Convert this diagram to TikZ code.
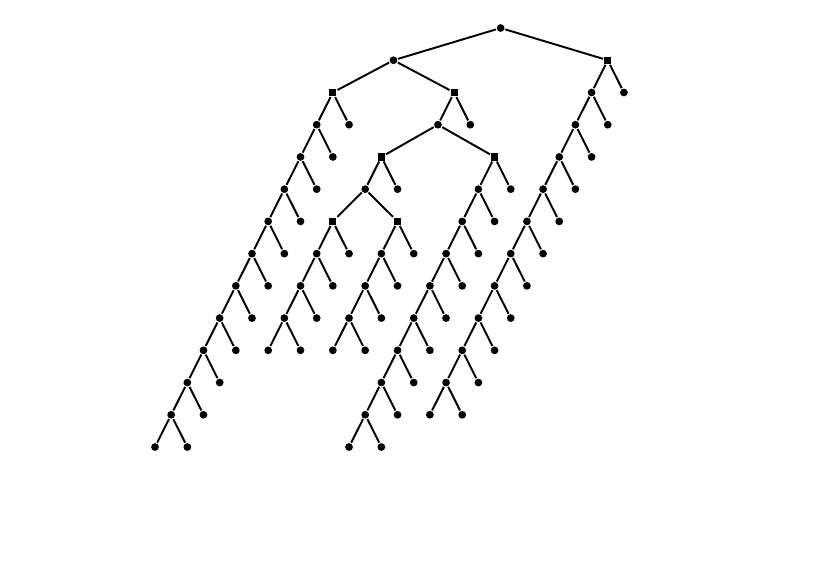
\documentclass[tikz,border=0pt]{standalone}
\begin{document}
\begin{tikzpicture}[x=0.3234cm,y=0.6446cm,line width=1.1pt]
\tikzstyle{vertex}=[circle, fill=black, inner sep=0pt, minimum size=1.55mm]
\tikzstyle{split}=[rectangle, fill=black, inner sep=0pt, minimum size=1.45mm]
\useasboundingbox (-9.585,0.869) rectangle (41.93,-16.506);

% top of the tree
\node[vertex] (r)  at (21.375, 0) {};
\node[vertex] (a)  at (14.75,-1) {};
\node[split]  (b)  at (28,-1) {};
\node[split]  (c)  at (11,-2) {};
\node[split]  (d)  at (18.5,-2) {};
\node[vertex] (d1) at (17.5,-3) {};
\node[vertex] (dr) at (19.5,-3) {};
\node[split]  (e)  at (14,-4) {};
\node[split]  (f)  at (21,-4) {};
\node[vertex] (g)  at (13,-5) {};
\node[vertex] (er) at (15,-5) {};
\node[split]  (h)  at (11,-6) {};
\node[split]  (i)  at (15,-6) {};

% chain below c
\node[vertex] (c1)  at (10,-3) {};
\node[vertex] (c2)  at ( 9,-4) {};
\node[vertex] (c3)  at ( 8,-5) {};
\node[vertex] (c4)  at ( 7,-6) {};
\node[vertex] (c5)  at ( 6,-7) {};
\node[vertex] (c6)  at ( 5,-8) {};
\node[vertex] (c7)  at ( 4,-9) {};
\node[vertex] (c8)  at ( 3,-10) {};
\node[vertex] (c9)  at ( 2,-11) {};
\node[vertex] (c10) at ( 1,-12) {};
\node[vertex] (c11) at ( 0,-13) {};
\node[vertex] (cr)   at (12,-3) {};
\node[vertex] (c1r)  at (11,-4) {};
\node[vertex] (c2r)  at (10,-5) {};
\node[vertex] (c3r)  at ( 9,-6) {};
\node[vertex] (c4r)  at ( 8,-7) {};
\node[vertex] (c5r)  at ( 7,-8) {};
\node[vertex] (c6r)  at ( 6,-9) {};
\node[vertex] (c7r)  at ( 5,-10) {};
\node[vertex] (c8r)  at ( 4,-11) {};
\node[vertex] (c9r)  at ( 3,-12) {};
\node[vertex] (c10r) at ( 2,-13) {};

% chain below h
\node[vertex] (h1)  at (10,-7) {};
\node[vertex] (h2)  at ( 9,-8) {};
\node[vertex] (h3)  at ( 8,-9) {};
\node[vertex] (h4)  at ( 7,-10) {};
\node[vertex] (hr)  at (12,-7) {};
\node[vertex] (h1r) at (11,-8) {};
\node[vertex] (h2r) at (10,-9) {};
\node[vertex] (h3r) at ( 9,-10) {};

% chain below i
\node[vertex] (i1)  at (14,-7) {};
\node[vertex] (i2)  at (13,-8) {};
\node[vertex] (i3)  at (12,-9) {};
\node[vertex] (i4)  at (11,-10) {};
\node[vertex] (ir)  at (16,-7) {};
\node[vertex] (i1r) at (15,-8) {};
\node[vertex] (i2r) at (14,-9) {};
\node[vertex] (i3r) at (13,-10) {};

% chain below f
\node[vertex] (f1)  at (20,-5) {};
\node[vertex] (f2)  at (19,-6) {};
\node[vertex] (f3)  at (18,-7) {};
\node[vertex] (f4)  at (17,-8) {};
\node[vertex] (f5)  at (16,-9) {};
\node[vertex] (f6)  at (15,-10) {};
\node[vertex] (f7)  at (14,-11) {};
\node[vertex] (f8)  at (13,-12) {};
\node[vertex] (f9)  at (12,-13) {};
\node[vertex] (fr)  at (22,-5) {};
\node[vertex] (f1r) at (21,-6) {};
\node[vertex] (f2r) at (20,-7) {};
\node[vertex] (f3r) at (19,-8) {};
\node[vertex] (f4r) at (18,-9) {};
\node[vertex] (f5r) at (17,-10) {};
\node[vertex] (f6r) at (16,-11) {};
\node[vertex] (f7r) at (15,-12) {};
\node[vertex] (f8r) at (14,-13) {};

% chain below b
\node[vertex] (b1)  at (27,-2) {};
\node[vertex] (b2)  at (26,-3) {};
\node[vertex] (b3)  at (25,-4) {};
\node[vertex] (b4)  at (24,-5) {};
\node[vertex] (b5)  at (23,-6) {};
\node[vertex] (b6)  at (22,-7) {};
\node[vertex] (b7)  at (21,-8) {};
\node[vertex] (b8)  at (20,-9) {};
\node[vertex] (b9)  at (19,-10) {};
\node[vertex] (b10) at (18,-11) {};
\node[vertex] (b11) at (17,-12) {};
\node[vertex] (br)   at (29,-2) {};
\node[vertex] (b1r)  at (28,-3) {};
\node[vertex] (b2r)  at (27,-4) {};
\node[vertex] (b3r)  at (26,-5) {};
\node[vertex] (b4r)  at (25,-6) {};
\node[vertex] (b5r)  at (24,-7) {};
\node[vertex] (b6r)  at (23,-8) {};
\node[vertex] (b7r)  at (22,-9) {};
\node[vertex] (b8r)  at (21,-10) {};
\node[vertex] (b9r)  at (20,-11) {};
\node[vertex] (b10r) at (19,-12) {};

% edges
\draw (r) -- (a);
\draw (r) -- (b);
\draw (a) -- (c);
\draw (a) -- (d);
\draw (d) -- (d1);
\draw (d) -- (dr);
\draw (d1) -- (e);
\draw (d1) -- (f);
\draw (e) -- (g);
\draw (e) -- (er);
\draw (g) -- (h);
\draw (g) -- (i);

\draw (c) -- (c1) -- (c2) -- (c3) -- (c4) -- (c5) -- (c6) -- (c7) -- (c8) -- (c9) -- (c10) -- (c11);
\draw (c) -- (cr) (c1) -- (c1r) (c2) -- (c2r) (c3) -- (c3r) (c4) -- (c4r) (c5) -- (c5r)
      (c6) -- (c6r) (c7) -- (c7r) (c8) -- (c8r) (c9) -- (c9r) (c10) -- (c10r);

\draw (h) -- (h1) -- (h2) -- (h3) -- (h4);
\draw (h) -- (hr) (h1) -- (h1r) (h2) -- (h2r) (h3) -- (h3r);

\draw (i) -- (i1) -- (i2) -- (i3) -- (i4);
\draw (i) -- (ir) (i1) -- (i1r) (i2) -- (i2r) (i3) -- (i3r);

\draw (f) -- (f1) -- (f2) -- (f3) -- (f4) -- (f5) -- (f6) -- (f7) -- (f8) -- (f9);
\draw (f) -- (fr) (f1) -- (f1r) (f2) -- (f2r) (f3) -- (f3r) (f4) -- (f4r) (f5) -- (f5r)
      (f6) -- (f6r) (f7) -- (f7r) (f8) -- (f8r);

\draw (b) -- (b1) -- (b2) -- (b3) -- (b4) -- (b5) -- (b6) -- (b7) -- (b8) -- (b9) -- (b10) -- (b11);
\draw (b) -- (br) (b1) -- (b1r) (b2) -- (b2r) (b3) -- (b3r) (b4) -- (b4r) (b5) -- (b5r)
      (b6) -- (b6r) (b7) -- (b7r) (b8) -- (b8r) (b9) -- (b9r) (b10) -- (b10r);
\end{tikzpicture}
\end{document}
